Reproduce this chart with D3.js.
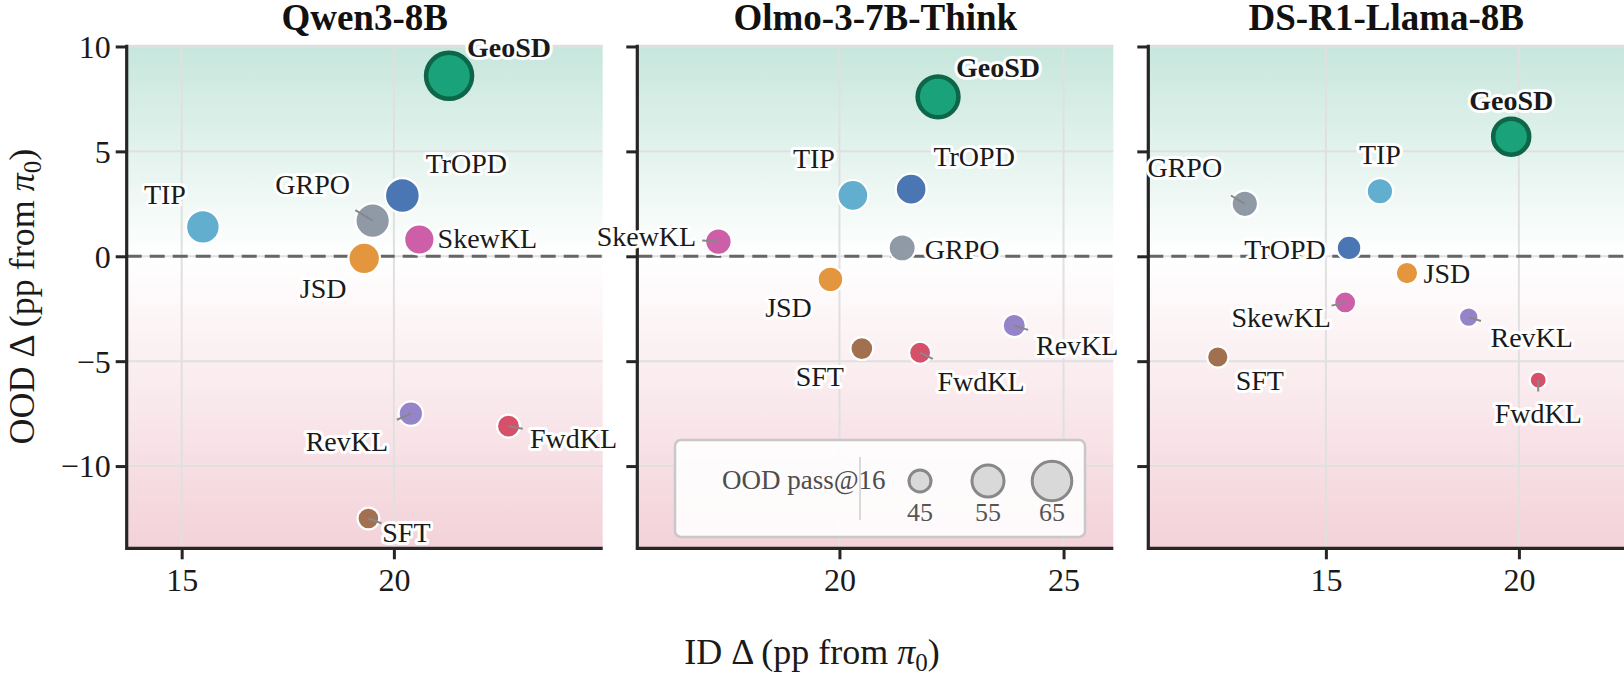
<!DOCTYPE html>
<html>
<head>
<meta charset="utf-8">
<script src="https://cdn.jsdelivr.net/npm/d3@7"></script>
<style>
  body { margin: 0; background: #fff; }
  svg { display: block; font-family: "Liberation Serif", "Times New Roman", serif; }
</style>
</head>
<body>
<div id="chart"></div>
<script>
// methods, same order in every array below
var methods = ["SFT", "FwdKL", "RevKL", "JSD", "SkewKL", "TIP", "GRPO", "TrOPD", "GeoSD"];
var models = ["Qwen3-8B", "Olmo-3-7B-Think", "DS-R1-Llama-8B"];

// ID delta (x), OOD delta (y), OOD pass@16 (marker size)
var qwenID   = [19.4, 22.7, 20.4, 19.3, 20.6, 15.5, 19.5, 20.2, 21.3];
var qwenOOD  = [-12.5, -8.1, -7.5, -0.1, 0.8, 1.4, 1.7, 2.9, 8.6];
var qwenPass = [44.8, 45.8, 47.1, 54.5, 53.1, 56.9, 57.9, 58.4, 75.1];

var olmoID   = [20.5, 21.8, 23.9, 19.8, 17.3, 20.3, 21.4, 21.6, 22.2];
var olmoOOD  = [-4.4, -4.6, -3.3, -1.1, 0.7, 2.9, 0.4, 3.2, 7.6];
var olmoPass = [45.7, 45.0, 46.0, 48.2, 49.1, 53.6, 49.7, 53.6, 66.8];

var dsID     = [12.2, 20.5, 18.7, 17.1, 15.5, 16.4, 12.9, 15.6, 19.8];
var dsOOD    = [-4.8, -5.9, -2.9, -0.8, -2.2, 3.1, 2.5, 0.4, 5.7];
var dsPass   = [44.5, 41.4, 43.2, 45.3, 45.0, 48.9, 48.9, 47.2, 60.0];

var xTicks = [[15, 20], [20, 25], [15, 20]];
var yTicks = [-10, -5, 0, 5, 10];
var legendPass = [45, 55, 65];

// ---- layout / style (not data) ----
var W = 1624, H = 673;
var plotTop = 44.8, plotBottom = 548.3, panelW = 476;
var panelLeft = [126.7, 637.3, 1148.3];
var xLimits = [[13.705, 24.92], [15.49, 26.11], [10.40, 22.73]];
var yLimits = [-13.92, 10.08];

var colors = {
	SFT: "#a2704f", FwdKL: "#d6506a", RevKL: "#9585c8", JSD: "#e3963e", SkewKL: "#cc5fa8",
	TIP: "#62aecf", GRPO: "#9099a6", TrOPD: "#4a77b4", GeoSD: "#1aa37a"
};

// label offsets (px from the marker centre), one list per panel
var labelOffsets = [
	[[38, 14], [65, 12], [-64, 28], [-41, 30], [68, -1], [-38, -32], [-60, -36], [64, -32], [60, -28]],
	[[-42, 28], [61, 29], [63, 20], [-42, 28], [-72, -5], [-39, -37], [60, 2], [63, -33], [60, -29]],
	[[42, 24], [0, 33], [63, 20], [40, 0], [-64, 15], [0, -37], [-60, -36], [-64, 2], [0, -36]]
];
// which points get the small adjustText leader line
var leaders = [
	["SFT", "FwdKL", "RevKL", "GRPO"],
	["SkewKL", "RevKL", "FwdKL"],
	["GRPO", "SkewKL", "RevKL", "FwdKL"]
];

var panels = [
	{ id: qwenID, ood: qwenOOD, pass: qwenPass },
	{ id: olmoID, ood: olmoOOD, pass: olmoPass },
	{ id: dsID, ood: dsOOD, pass: dsPass }
];

// marker area linear in pass@16 (like matplotlib's s=)
var area = d3.scaleLinear().domain([45, 65]).range([121, 392]);
function radius(v) { return Math.sqrt(Math.max(area(v), 20)); }

var y = d3.scaleLinear().domain(yLimits).range([plotBottom, plotTop]);

var svg = d3.select("#chart").append("svg")
	.attr("width", W)
	.attr("height", H);

svg.append("rect").attr("width", W).attr("height", H).attr("fill", "#fff");

// background gradient: teal above zero, pink below
var zeroOff = (y(0) - plotTop) / (plotBottom - plotTop);
var grad = svg.append("defs").append("linearGradient")
	.attr("id", "bg")
	.attr("gradientUnits", "userSpaceOnUse")
	.attr("x1", 0).attr("x2", 0)
	.attr("y1", plotTop).attr("y2", plotBottom);
grad.append("stop").attr("offset", 0).attr("stop-color", "#c6e6dc");
grad.append("stop").attr("offset", zeroOff).attr("stop-color", "#ffffff");
grad.append("stop").attr("offset", 1).attr("stop-color", "#f3d2d9");

for (var p = 0; p < 3; p++) {
	drawPanel(p);
}
drawLegend();

// axis labels
var xl = svg.append("text")
	.attr("x", 812)
	.attr("y", 664)
	.attr("text-anchor", "middle")
	.attr("font-size", 36)
	.attr("fill", "#1a1a1a");
xl.append("tspan").text("ID \u0394 (pp from ");
xl.append("tspan").attr("font-style", "italic").text("\u03c0");
xl.append("tspan").attr("font-size", 25).attr("dy", 7).text("0");
xl.append("tspan").attr("dy", -7).text(")");

var yl = svg.append("text")
	.attr("transform", "translate(34," + ((plotTop + plotBottom) / 2) + ") rotate(-90)")
	.attr("text-anchor", "middle")
	.attr("font-size", 36)
	.attr("fill", "#1a1a1a");
yl.append("tspan").text("OOD \u0394 (pp from ");
yl.append("tspan").attr("font-style", "italic").text("\u03c0");
yl.append("tspan").attr("font-size", 25).attr("dy", 7).text("0");
yl.append("tspan").attr("dy", -7).text(")");


function drawPanel(p) {
	var left = panelLeft[p];
	var x = d3.scaleLinear().domain(xLimits[p]).range([left, left + panelW]);
	var g = svg.append("g");
	var d = panels[p];

	g.append("rect")
		.attr("x", left).attr("y", plotTop)
		.attr("width", panelW).attr("height", plotBottom - plotTop)
		.attr("fill", "url(#bg)");

	// grid
	g.selectAll(".gx").data(xTicks[p]).enter().append("line")
		.attr("x1", function(t) { return x(t); })
		.attr("x2", function(t) { return x(t); })
		.attr("y1", plotTop).attr("y2", plotBottom)
		.attr("stroke", "#e0e0e0").attr("stroke-width", 2);
	g.selectAll(".gy").data(yTicks).enter().append("line")
		.attr("x1", left).attr("x2", left + panelW)
		.attr("y1", function(t) { return y(t); })
		.attr("y2", function(t) { return y(t); })
		.attr("stroke", "#e0e0e0").attr("stroke-width", 2);

	// zero line
	g.append("line")
		.attr("x1", left).attr("x2", left + panelW)
		.attr("y1", y(0)).attr("y2", y(0))
		.attr("stroke", "#666").attr("stroke-width", 3)
		.attr("stroke-dasharray", "15,8");

	// axes
	var xAxis = d3.axisBottom(x).tickValues(xTicks[p]).tickSize(11).tickPadding(8);
	var gx = g.append("g").attr("transform", "translate(0," + plotBottom + ")").call(xAxis);
	var yAxis = d3.axisLeft(y).tickValues(yTicks).tickSize(11).tickPadding(5)
		.tickFormat(p == 0 ? function(t) { return t < 0 ? "\u2212" + Math.abs(t) : t; } : "");
	var gy = g.append("g").attr("transform", "translate(" + left + ",0)").call(yAxis);
	[gx, gy].forEach(function(a) {
		a.select(".domain").remove();
		a.selectAll(".tick line").attr("stroke", "#262626").attr("stroke-width", 3);
		a.selectAll(".tick text")
			.attr("font-family", "Liberation Serif, serif")
			.attr("font-size", 32).attr("fill", "#1a1a1a");
	});
	gy.selectAll(".tick text").attr("dy", "0.34em");
	gx.selectAll(".tick text").attr("dy", "0.75em");

	// spines (left + bottom only)
	g.append("path")
		.attr("d", "M" + left + "," + plotTop + "V" + plotBottom + "H" + (left + panelW))
		.attr("fill", "none").attr("stroke", "#262626").attr("stroke-width", 3.2);

	// title
	g.append("text")
		.attr("x", left + panelW / 2).attr("y", 29.5)
		.attr("text-anchor", "middle")
		.attr("font-size", 37).attr("font-weight", "bold")
		.attr("fill", "#111")
		.text(models[p]);

	var pts = methods.map(function(m, i) {
		var cx = x(d.id[i]), cy = y(d.ood[i]);
		var r = radius(d.pass[i]);
		var off = labelOffsets[p][i];
		return { m: m, cx: cx, cy: cy, r: r, lx: cx + off[0], ly: cy + off[1] };
	});

	// markers, smallest on top
	var order = pts.slice().sort(function(a, b) { return b.r - a.r; });
	g.selectAll(".pt").data(order).enter().append("circle")
		.attr("cx", function(o) { return o.cx; })
		.attr("cy", function(o) { return o.cy; })
		.attr("r", function(o) { return o.r; })
		.attr("fill", function(o) { return colors[o.m]; })
		.attr("stroke", function(o) { return o.m == "GeoSD" ? "#0d6648" : "#fff"; })
		.attr("stroke-width", function(o) { return o.m == "GeoSD" ? 4.5 : 2.2; });

	// leader stubs
	g.selectAll(".ld").data(pts.filter(function(o) { return leaders[p].indexOf(o.m) >= 0; }))
		.enter().append("line")
		.attr("x1", function(o) { return o.cx; })
		.attr("y1", function(o) { return o.cy; })
		.attr("x2", function(o) {
			var dx = o.lx - o.cx, dy = o.ly - o.cy, L = Math.sqrt(dx * dx + dy * dy);
			return o.cx + dx / L * (o.r + 3);
		})
		.attr("y2", function(o) {
			var dx = o.lx - o.cx, dy = o.ly - o.cy, L = Math.sqrt(dx * dx + dy * dy);
			return o.cy + dy / L * (o.r + 3);
		})
		.attr("stroke", "#888").attr("stroke-width", 2);

	// labels with white halo
	g.selectAll(".lb").data(pts).enter().append("text")
		.attr("x", function(o) { return o.lx; })
		.attr("y", function(o) { return o.ly; })
		.attr("dy", "0.34em")
		.attr("text-anchor", "middle")
		.attr("font-size", 28)
		.attr("font-weight", function(o) { return o.m == "GeoSD" ? "bold" : "normal"; })
		.attr("fill", "#1a1a1a")
		.attr("stroke", "#fff").attr("stroke-width", 6)
		.attr("stroke-linejoin", "round")
		.attr("paint-order", "stroke")
		.text(function(o) { return o.m; });
}


function drawLegend() {
	var lg = svg.append("g");
	lg.append("rect")
		.attr("x", 675).attr("y", 440)
		.attr("width", 410).attr("height", 97)
		.attr("rx", 6)
		.attr("fill", "#fff").attr("fill-opacity", 0.88)
		.attr("stroke", "#c8c8c8").attr("stroke-width", 2.5);

	lg.append("text")
		.attr("x", 722).attr("y", 489)
		.attr("font-size", 27).attr("fill", "#4d4d4d")
		.text("OOD pass@16");

	lg.append("line")
		.attr("x1", 860).attr("x2", 860)
		.attr("y1", 457).attr("y2", 520)
		.attr("stroke", "#d9d9d9").attr("stroke-width", 2);

	var legendX = [920, 988, 1052];
	var items = lg.selectAll(".li").data(legendPass).enter().append("g");
	items.append("circle")
		.attr("cx", function(v, i) { return legendX[i]; })
		.attr("cy", 481)
		.attr("r", function(v) { return radius(v); })
		.attr("fill", "#d9d9d9")
		.attr("stroke", "#888").attr("stroke-width", 3);
	items.append("text")
		.attr("x", function(v, i) { return legendX[i]; })
		.attr("y", 521)
		.attr("text-anchor", "middle")
		.attr("font-size", 26).attr("fill", "#555")
		.text(function(v) { return v; });
}
</script>
</body>
</html>
